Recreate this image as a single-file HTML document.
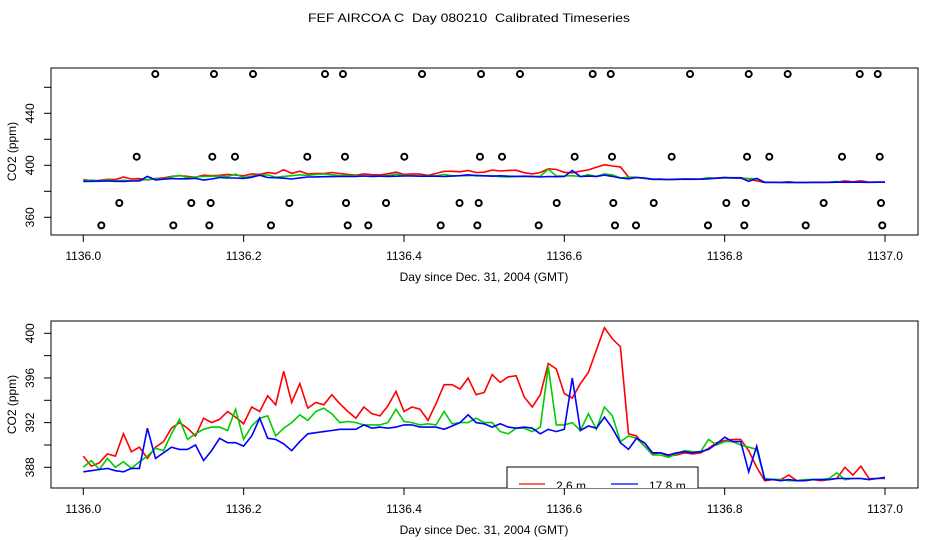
<!DOCTYPE html>
<html><head><meta charset="utf-8"><style>
html,body{margin:0;padding:0;background:#fff;}
svg{display:block;font-family:"Liberation Sans",sans-serif;}
</style></head><body>
<svg id="chart" width="936" height="540" viewBox="0 0 936 540">
<text x="469" y="22" font-size="12" text-anchor="middle" textLength="322" lengthAdjust="spacingAndGlyphs" style="white-space:pre">FEF AIRCOA C  Day 080210  Calibrated Timeseries</text>
<defs><clipPath id="clipB"><rect x="51" y="321" width="867" height="167"/></clipPath><clipPath id="clipT"><rect x="51" y="68" width="867" height="167"/></clipPath></defs>
<g id="top"></g>
<g id="bot"></g>
</svg>
<script>
const xTicks = [1136.0, 1136.2, 1136.4, 1136.6, 1136.8, 1137.0];
const xTickLabels = ["1136.0","1136.2","1136.4","1136.6","1136.8","1137.0"];
const topYTicks = [360,380,400,420,440,460,480];
const topYLabels = ["360","","400","","440","",""];
const botYTicks = [388,390,392,394,396,398,400];
const botYLabels = ["388","","392","","396","","400"];
const startDay = 1136.0;
const stepDay = 0.01;
const red = [389.0,388.1,388.4,389.2,389.0,391.0,389.4,389.8,388.8,389.8,390.3,391.5,392.0,391.5,390.8,392.4,392.0,392.3,393.0,392.5,
391.9,393.4,393.0,394.4,393.6,396.6,393.8,395.5,393.3,393.8,393.6,394.5,393.7,393.0,392.4,393.4,392.8,392.6,393.5,394.8,
393.0,393.4,393.2,392.2,393.7,395.4,395.4,395.0,396.0,394.5,394.7,396.3,395.6,396.1,396.2,394.3,393.4,394.5,397.3,396.8,
394.6,394.2,395.5,396.5,398.5,400.5,399.5,398.8,391.0,390.8,389.9,389.2,389.3,389.0,389.1,389.3,389.2,389.3,389.7,390.2,
390.4,390.5,390.5,389.5,388.0,386.8,386.9,386.9,387.3,386.8,386.8,386.9,386.8,386.9,387.0,388.0,387.3,388.1,387.0,387.0,387.0];
const green = [388.0,388.6,387.8,388.8,388.0,388.5,387.9,388.5,389.0,389.7,389.5,391.0,392.3,390.5,391.0,391.4,391.6,391.6,391.3,393.2,
390.5,391.7,392.4,392.6,390.8,391.5,392.0,392.7,392.2,393.0,393.3,392.8,392.0,392.1,392.0,391.8,391.8,391.8,392.0,393.2,
392.1,392.0,391.8,391.9,391.8,393.0,391.9,392.0,392.0,392.4,392.0,392.0,391.2,391.0,391.5,391.5,391.2,391.6,397.0,391.8,
391.8,392.0,391.3,392.8,391.4,393.4,392.6,390.3,390.8,390.6,389.9,389.1,389.1,388.9,389.2,389.5,389.4,389.4,390.5,390.0,
390.3,390.3,390.0,389.8,389.6,387.0,386.9,386.9,386.8,386.8,386.9,386.9,386.9,387.0,387.5,386.9,387.0,387.0,386.9,387.0,387.1];
const blue = [387.6,387.7,387.8,387.9,387.7,387.6,387.9,387.9,391.5,388.8,389.3,389.8,389.6,389.6,390.0,388.6,389.5,390.6,390.2,390.2,
389.9,390.8,392.4,390.6,390.5,390.1,389.5,390.3,391.0,391.1,391.2,391.3,391.4,391.4,391.4,391.8,391.5,391.6,391.5,391.6,
391.8,391.8,391.6,391.6,391.6,391.4,391.7,392.0,392.7,392.0,391.9,391.6,391.9,391.6,391.5,391.6,391.5,391.0,391.4,391.2,
391.4,396.0,391.3,391.7,391.5,392.5,391.5,390.2,389.6,390.6,390.2,389.3,389.3,389.1,389.3,389.4,389.3,389.4,389.6,390.1,
390.7,390.3,390.3,387.6,389.9,386.9,386.9,386.8,386.9,386.8,386.8,386.9,386.9,386.9,387.0,387.0,387.0,387.0,386.9,387.0,387.1];
const flagDays1 = [0.0898,0.1630,0.2117,0.3015,0.3239,0.4225,0.4961,0.5447,0.6354,0.6579,0.7568,0.8300,0.8786,0.9685,0.9909];
const flagDays2 = [0.0666,0.1609,0.1892,0.2794,0.3264,0.4004,0.4948,0.5223,0.6129,0.6595,0.7339,0.8279,0.8557,0.9464,0.9934];
const flagDays3 = [0.0449,0.1347,0.1589,0.2570,0.3277,0.3776,0.4693,0.4932,0.5905,0.6611,0.7115,0.8021,0.8263,0.9235,0.9950];
const flagDays4 = [0.0225,0.1123,0.1572,0.2341,0.3298,0.3555,0.4458,0.4915,0.5680,0.6632,0.6894,0.7792,0.8245,0.9011,0.9966];
const flagValues = [470.2, 406.6, 371.0, 353.8];

const NS="http://www.w3.org/2000/svg";
function mk(tag, attrs, parent){const e=document.createElementNS(NS,tag);for(const k in attrs)e.setAttribute(k,attrs[k]);parent.appendChild(e);return e;}
const xs = d => 83.3 + (d-1136.0)*801.7;
const ysTop = v => 165.3 - (v-400)*1.3;
const ysBot = v => 333.3 - (v-400)*11.167;

function panel(g, top, bottom, ys, yTicks, yLabels, clip, name){
  const box=mk('rect',{x:51,y:top,width:867,height:bottom-top,fill:'none',stroke:'#000','stroke-width':1},g);
  
  
  xTicks.forEach((t,i)=>{
    const X=xs(t);
    const tk=mk('line',{x1:X,x2:X,y1:bottom,y2:bottom+7,stroke:'#000'},g);
    
    
    const tl=mk('text',{x:X,y:bottom+25,'font-size':12,'text-anchor':'middle'},g);
    tl.textContent=xTickLabels[i];
    
    
  });
  const xl=mk('text',{x:484,y:bottom+46,'font-size':12,'text-anchor':'middle'},g);
  xl.textContent='Day since Dec. 31, 2004 (GMT)';
  
  
  yTicks.forEach((t,i)=>{
    const Y=ys(t);
    if(Y<top-1||Y>bottom+1) return;
    const tk=mk('line',{x1:44,x2:51,y1:Y,y2:Y,stroke:'#000'},g);
    
    
    if(yLabels[i]){
      const tl=mk('text',{x:0,y:0,'font-size':12,'text-anchor':'middle',transform:`translate(34,${Y}) rotate(-90)`},g);
      tl.textContent=yLabels[i];
      
      
    }
  });
  const yl=mk('text',{x:0,y:0,'font-size':12,'text-anchor':'middle',transform:`translate(16,${(top+bottom)/2}) rotate(-90)`},g);
  yl.textContent='CO2 (ppm)';
  
  
  const lg=mk('g',{'clip-path':`url(#${clip})`},g);
  [[red,'#f00','red'],[green,'#0c0','green'],[blue,'#00f','blue']].forEach(([arr,col,nm])=>{
    const pts=arr.map((v,i)=>xs(startDay+i*stepDay).toFixed(1)+','+ys(v).toFixed(1)).join(' ');
    const pl=mk('polyline',{points:pts,fill:'none',stroke:col,'stroke-width':1.6},lg);
    
    
  });
  return lg;
}
const topG=document.getElementById('top');
panel(topG,68,235,ysTop,topYTicks,topYLabels,'clipT','top');
[flagDays1,flagDays2,flagDays3,flagDays4].forEach((row,r)=>{
  row.forEach(d=>{
    const c=mk('circle',{cx:xs(1136+d),cy:ysTop(flagValues[r]),r:3,fill:'none',stroke:'#000','stroke-width':2},topG);
    
    
  });
});
const botG=document.getElementById('bot');
const lgB=panel(botG,321,488,ysBot,botYTicks,botYLabels,'clipB','bottom');
const leg=mk('g',{},lgB);


mk('rect',{x:507,y:467,width:191,height:40,fill:'#fff',stroke:'#000'},leg);
mk('line',{x1:519,x2:545,y1:484,y2:484,stroke:'#f00','stroke-width':1.2},leg);
const t1=mk('text',{x:556,y:490,'font-size':12},leg);t1.textContent='2.6 m';


mk('line',{x1:611,x2:638,y1:484,y2:484,stroke:'#00f','stroke-width':1.2},leg);
const t2=mk('text',{x:649,y:490,'font-size':12},leg);t2.textContent='17.8 m';


</script>
</body></html>
